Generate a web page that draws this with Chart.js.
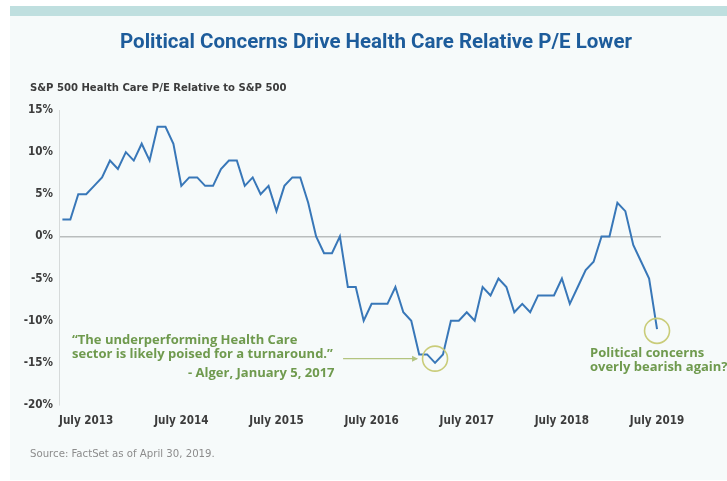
<!DOCTYPE html>
<html>
<head>
<meta charset="utf-8">
<script src="https://cdn.jsdelivr.net/npm/chart.js@4/dist/chart.umd.min.js"></script>
<style>
    html, body { margin: 0; padding: 0; background: #ffffff; }
    #page { position: relative; width: 727px; height: 481px; overflow: hidden; }
    #panel { position: absolute; left: 10px; top: 16px; width: 717px; height: 464px; background: #f6fafa; }
    #band { position: absolute; left: 10px; top: 6px; width: 717px; height: 10px; background: #bfdfdf; }
    #chartBox { position: absolute; left: 0; top: 0; width: 727px; height: 481px; }
    .txt { position: absolute; white-space: nowrap; }
    #title { left: 0; width: 752px; top: 29px; text-align: center; color: #1d5c9b;
             font: 700 20.5px Roboto, 'Liberation Sans', sans-serif; }
    #subtitle { left: 30px; top: 81px; color: #3c3c3c;
                font: 700 11.2px 'Liberation Sans Narrow', 'DejaVu Sans Condensed', sans-serif; }
    #source { left: 30px; top: 447px; color: #8c8c8c;
              font: 400 11.3px 'Liberation Sans Narrow', 'DejaVu Sans Condensed', sans-serif; }
    .note { color: #6f9a4e; font: 700 13px 'Open Sans', Lato, sans-serif; line-height: 14px; }
</style>
</head>
<body>
<div id="page">
    <div id="panel"></div>
    <div id="band"></div>
    <div id="chartBox"><canvas id="peChart"></canvas></div>
    <div class="txt" id="title">Political Concerns Drive Health Care Relative P/E Lower</div>
    <div class="txt" id="subtitle">S&amp;P 500 Health Care P/E Relative to S&amp;P 500</div>
    <div class="txt note" style="left:72px; top:332px;">“The underperforming Health Care<br>sector is likely poised for a turnaround.”</div>
    <div class="txt note" style="left:188px; top:365px;">- Alger, January 5, 2017</div>
    <div class="txt note" style="left:590px; top:345px;">Political concerns<br>overly bearish again?</div>
    <div class="txt" id="source">Source: FactSet as of April 30, 2019.</div>
</div>

<script>
// ---- data (monthly, April 2013 - July 2019) ----
const startYear = 2013;
const startMonth = 3; // April (0 = January)
const relativePE = [
    2, 2, 5, 5, 6, 7, 9, 8, 10, 9,
    11, 9, 13, 13, 11, 6, 7, 7, 6, 6,
    8, 9, 9, 6, 7, 5, 6, 3, 6, 7,
    7, 4, 0, -2, -2, 0, -6, -6, -10, -8,
    -8, -8, -6, -9, -10, -14, -14, -15, -14, -10,
    -10, -9, -10, -6, -7, -5, -6, -9, -8, -9,
    -7, -7, -7, -5, -8, -6, -4, -3, 0, 0,
    4, 3, -1, -3, -5, -11
];
const xTickIndex = [3, 15, 27, 39, 51, 63, 75];   // each July
const yTicks = [15, 10, 5, 0, -5, -10, -15, -20];

// annotation anchors (month index, value)
const quoteCircle = { x: 47, y: -14.5 };
const arrowStart = { x: 35.4, y: -14.5 };
const latestCircle = { x: 75, y: -11.2 };

const monthNames = ['January', 'February', 'March', 'April', 'May', 'June', 'July',
    'August', 'September', 'October', 'November', 'December'];

function monthLabel(i) {
    const m = startMonth + i;
    return monthNames[m % 12] + ' ' + (startYear + Math.floor(m / 12));
}

const axisFont = { family: "'Liberation Sans Narrow', 'DejaVu Sans Condensed', sans-serif", size: 11.6, weight: 'bold' };

// circles + arrow, placed through the scales
const notesPlugin = {
    id: 'notes',
    afterDatasetsDraw(chart) {
        const ctx = chart.ctx;
        const xs = chart.scales.x, ys = chart.scales.y;
        ctx.save();
        ctx.strokeStyle = '#c9cc79';
        ctx.lineWidth = 1.6;
        [quoteCircle, latestCircle].forEach(c => {
            ctx.beginPath();
            ctx.arc(xs.getPixelForValue(c.x), ys.getPixelForValue(c.y), 12.5, 0, Math.PI * 2);
            ctx.stroke();
        });
        const x0 = xs.getPixelForValue(arrowStart.x);
        const y0 = ys.getPixelForValue(arrowStart.y);
        const x1 = xs.getPixelForValue(quoteCircle.x) - 18;
        ctx.strokeStyle = '#b3c47f';
        ctx.lineWidth = 1.2;
        ctx.beginPath();
        ctx.moveTo(x0, y0);
        ctx.lineTo(x1, y0);
        ctx.stroke();
        ctx.fillStyle = '#b3c47f';
        ctx.beginPath();
        ctx.moveTo(x1 + 1, y0);
        ctx.lineTo(x1 - 5, y0 - 3);
        ctx.lineTo(x1 - 5, y0 + 3);
        ctx.closePath();
        ctx.fill();
        ctx.restore();
    }
};

new Chart(document.getElementById('peChart'), {
    type: 'line',
    data: {
        datasets: [{
            data: relativePE.map((v, i) => ({ x: i, y: v })),
            borderColor: '#3877b8',
            borderWidth: 2,
            pointRadius: 0,
            tension: 0,
            fill: false
        }]
    },
    options: {
        responsive: true,
        maintainAspectRatio: false,
        animation: false,
        layout: { padding: { left: 0, right: 66, top: 110, bottom: 46 } },
        plugins: { legend: { display: false }, tooltip: { enabled: false } },
        scales: {
            x: {
                type: 'linear',
                min: -0.43,
                max: 75.5,
                afterBuildTicks(axis) { axis.ticks = xTickIndex.map(v => ({ value: v })); },
                afterFit(axis) { axis.height = 30; },
                grid: { display: false, drawTicks: false },
                border: { display: false },
                ticks: {
                    autoSkip: false,
                    maxRotation: 0,
                    padding: 9,
                    color: '#3c3c3c',
                    font: axisFont,
                    callback: v => monthLabel(v)
                }
            },
            y: {
                min: -20,
                max: 15,
                afterBuildTicks(axis) { axis.ticks = yTicks.map(v => ({ value: v })); },
                afterFit(axis) { axis.width = 59; },
                grid: {
                    drawTicks: false,
                    color: c => c.tick && c.tick.value === 0 ? '#b9bdbd' : 'rgba(0,0,0,0)',
                    lineWidth: 1.6
                },
                border: { display: true, color: '#d6dada', width: 1 },
                ticks: {
                    padding: 6,
                    color: '#3c3c3c',
                    font: axisFont,
                    callback: v => v + '%'
                }
            }
        }
    },
    plugins: [notesPlugin]
});
</script>
</body>
</html>
